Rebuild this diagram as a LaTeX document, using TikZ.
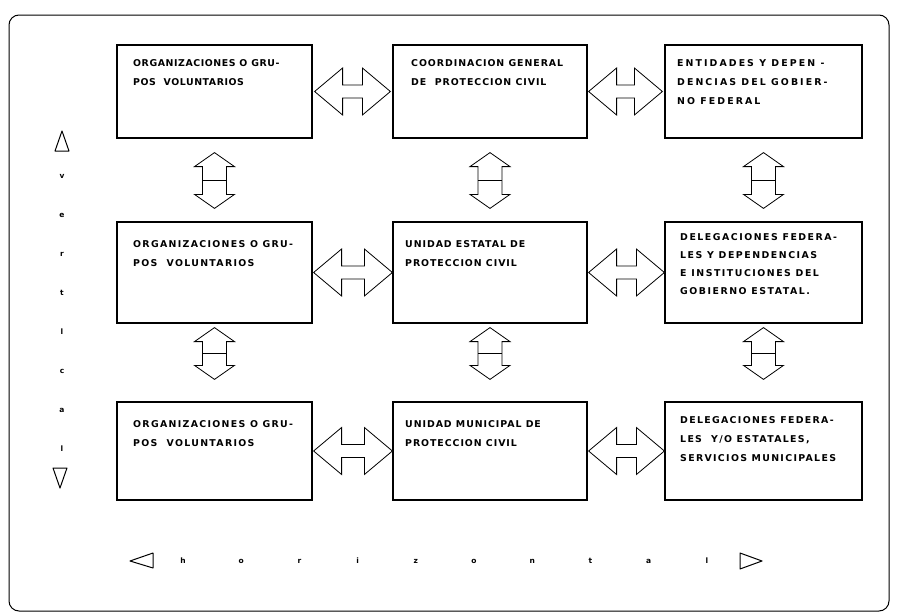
\documentclass[tikz,border=0pt]{standalone}
\usepackage{fontspec}
\usetikzlibrary{calc}
\setmainfont{DejaVu Sans}
\newfontfamily\capsfont{DejaVu Sans}
\newfontfamily\smallfont{DejaVu Sans}

\tikzset{
  cell/.style={draw, line width=1.2pt, inner sep=0pt},
  txt/.style={anchor=north west, inner sep=0pt, align=left,
              font=\capsfont\addfontfeature{LetterSpace=#1}\bfseries\fontsize{9.4}{19}\selectfont},
  txtb/.style={anchor=north west, inner sep=0pt, align=left,
              font=\capsfont\addfontfeature{LetterSpace=#1}\bfseries\fontsize{9.4}{18}\selectfont},
  arr/.style={draw, line width=0.8pt, line join=miter, fill=white},
  frame/.style={draw, line width=1pt, rounded corners=10pt},
  axislbl/.style={inner sep=0pt, font=\smallfont\bfseries\fontsize{7.5}{9}\selectfont},
  tri/.style={draw, line width=1pt, line join=round}
}

% horizontal double arrow between two tip coordinates
\newcommand\hdarrow[2]{%
  \draw[arr] (#1) -- ++(28pt,23.5pt) -- ++(0,-17pt)
    -- ($(#2)+(-28pt,6.5pt)$) -- ++(0,17pt) -- (#2)
    -- ++(-28pt,-23.5pt) -- ++(0,17pt)
    -- ($(#1)+(28pt,-6.5pt)$) -- ++(0,-17pt) -- cycle;}

% vertical double arrow between two tip coordinates, with a seam across the middle
\newcommand\vdarrow[2]{%
  \draw[arr] (#1) -- ++(-20pt,-14pt) -- ++(8pt,0)
    -- ($(#2)+(-12pt,14pt)$) -- ++(-8pt,0) -- (#2)
    -- ++(20pt,14pt) -- ++(-8pt,0)
    -- ($(#1)+(12pt,-14pt)$) -- ++(8pt,0) -- cycle;
  \draw[line width=1.1pt] ($(#1)!0.5!(#2)+(-12pt,0)$) -- ++(24pt,0);}

\begin{document}
\begin{tikzpicture}[x=1pt,y=-1pt]
\useasboundingbox (0,0) rectangle (898,616);

% outer frame
\draw[frame] (9,15) rectangle (889,611);

% boxes: columns 117-312, 393-587, 665-862; rows 45-138, 222-323, 402-500
\node[cell, minimum width=195pt, minimum height=93pt]  (b11) at (214.5,91.5) {};
\node[cell, minimum width=194pt, minimum height=93pt]  (b12) at (490,91.5) {};
\node[cell, minimum width=197pt, minimum height=93pt]  (b13) at (763.5,91.5) {};
\node[cell, minimum width=195pt, minimum height=101pt] (b21) at (214.5,272.5) {};
\node[cell, minimum width=194pt, minimum height=101pt] (b22) at (490,272.5) {};
\node[cell, minimum width=197pt, minimum height=101pt] (b23) at (763.5,272.5) {};
\node[cell, minimum width=195pt, minimum height=98pt]  (b31) at (214.5,451) {};
\node[cell, minimum width=194pt, minimum height=98pt]  (b32) at (490,451) {};
\node[cell, minimum width=197pt, minimum height=98pt]  (b33) at (763.5,451) {};

% box texts
\node[txt=6] (t11) at (133,59) {ORGANIZACIONES O GRU-\\POS\ \ VOLUNTARIOS};
\node[txt=10] (t12) at (411,59) {COORDINACION GENERAL\\DE\ \ PROTECCION CIVIL};
\node[txt=22] (t13) at (677,59) {ENTIDADES Y DEPEN -\\DENCIAS DEL GOBIER-\\NO FEDERAL};
\node[txt=14] (t21) at (133,240) {ORGANIZACIONES O GRU-\\POS\ \ VOLUNTARIOS};
\node[txt=10] (t22) at (405,240) {UNIDAD ESTATAL DE\\PROTECCION CIVIL};
\node[txtb=16] (t23) at (680,233) {DELEGACIONES FEDERA-\\LES Y DEPENDENCIAS\\E INSTITUCIONES DEL\\GOBIERNO ESTATAL.};
\node[txt=14] (t31) at (133,420) {ORGANIZACIONES O GRU-\\POS\ \ VOLUNTARIOS};
\node[txt=10] (t32) at (405,420) {UNIDAD MUNICIPAL DE\\PROTECCION CIVIL};
\node[txt=14] (t33) at (680,416) {DELEGACIONES FEDERA-\\LES\ \ Y/O ESTATALES,\\SERVICIOS MUNICIPALES};

% horizontal connectors
\hdarrow{[xshift=2pt]b11.east}{[xshift=-2pt]b12.west}
\hdarrow{[xshift=1pt]b12.east}{[xshift=-2pt]b13.west}
\hdarrow{[xshift=1pt]b21.east}{b22.west}
\hdarrow{[xshift=1pt]b22.east}{b23.west}
\hdarrow{[xshift=1pt]b31.east}{b32.west}
\hdarrow{[xshift=1pt]b32.east}{b33.west}

% vertical connectors
\vdarrow{[yshift=-14pt]b11.south}{[yshift=13pt]b21.north}
\vdarrow{[yshift=-14pt]b12.south}{[yshift=13pt]b22.north}
\vdarrow{[yshift=-14pt]b13.south}{[yshift=13pt]b23.north}
\vdarrow{[yshift=-4pt]b21.south}{[yshift=22pt]b31.north}
\vdarrow{[yshift=-4pt]b22.south}{[yshift=22pt]b32.north}
\vdarrow{[yshift=-4pt]b23.south}{[yshift=22pt]b33.north}

% vertical axis label
\draw[tri] (55,151) -- (62,131) -- (69,151) -- cycle;
\foreach \c [count=\i from 0] in {v,e,r,t,i,c,a,l}
  \node[axislbl] (vl\i) at (62,{176+39*\i}) {\ifnum\i=4 l\else\c\fi};
\draw[tri] (53,468) -- (67,468) -- (60,488) -- cycle;

% horizontal axis label
\draw[tri] (130,561) -- (153,553) -- (153,568) -- cycle;
\foreach \c [count=\i from 0] in {h,o,r,i,z,o,n,t,a,l}
  \node[axislbl] (hl\i) at ({183+58.2*\i},561) {\ifnum\i=3 i\else\c\fi};
\draw[tri] (740,553) -- (762,561) -- (740,569) -- cycle;
\end{tikzpicture}
\end{document}
